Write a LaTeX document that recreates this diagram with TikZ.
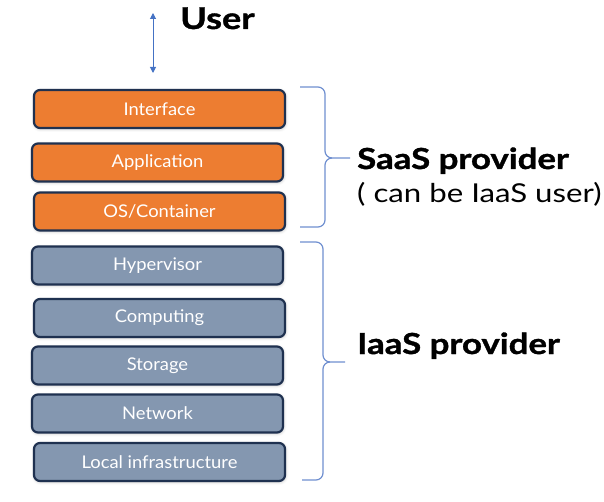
\documentclass[tikz,border=0pt]{standalone}
\usepackage{fontspec}
\setmainfont{Lato}
\newfontfamily\boxfont[FakeStretch=1.05]{Lato}
\newfontfamily\widefont[FakeStretch=1.2, BoldFeatures={FakeBold=1.2}]{Lato}
\usetikzlibrary{arrows.meta,shadows.blur}
\definecolor{saas}{HTML}{ED7D31}
\definecolor{iaas}{HTML}{8497B0}
\definecolor{edge}{HTML}{1F3150}
\definecolor{arrowc}{HTML}{4472C4}
\definecolor{bracec}{HTML}{6F8FD0}
\tikzset{
  layer/.style={draw=edge, line width=2.2pt, rounded corners=6pt, text=white,
    font=\boxfont\fontsize{17.5}{19}\selectfont, inner sep=0pt,
    minimum width=251pt, minimum height=38pt,
    blur shadow={shadow xshift=0.5pt, shadow yshift=-1pt, shadow opacity=25, shadow blur radius=3pt}},
  saasbox/.style={layer, fill=saas},
  iaasbox/.style={layer, fill=iaas},
  bracepath/.style={draw=bracec, line width=1.2pt},
  biglabel/.style={font=\widefont\fontsize{29}{32}\selectfont\bfseries, anchor=base west, inner sep=0pt},
  smalllabel/.style={font=\widefont\fontsize{26}{30}\selectfont, anchor=base west, inner sep=0pt},
}
\begin{document}
\begin{tikzpicture}[x=1pt,y=-1pt]
\useasboundingbox (0,0) rectangle (604,502);
\node[saasbox] (interface) at (159.5,109) {Interface};
\node[saasbox] (application) at (157.5,162.5) {Application};
\node[saasbox] (os) at (159.5,211.5) {OS/Container};
\node[iaasbox] (hyper) at (157.5,265.5) {Hypervisor};
\node[iaasbox] (computing) at (159.5,318) {Computing};
\node[iaasbox] (storage) at (157.5,365.5) {Storage};
\node[iaasbox] (network) at (157.5,413.5) {Network};
\node[iaasbox] (local) at (159.5,462) {Local infrastructure};

\coordinate (utop) at (153,13);
\coordinate (ubot) at (153,73);
\draw[arrowc, line width=1pt, {Triangle[length=6pt,width=6pt]}-{Triangle[length=6pt,width=6pt]}] (utop) -- (ubot);
\node[biglabel, font=\widefont\fontsize{30}{32}\selectfont\bfseries] (user) at (180,29) {User};

% SaaS brace
\draw[bracepath] (300,87) -- (318,87) to[out=0,in=90] (325,94) -- (325,151)
  to[out=-90,in=180] (332,158) -- (350,158);
\draw[bracepath] (332,158) to[out=180,in=90] (325,165) -- (325,220)
  to[out=-90,in=0] (318,227) -- (300,227);
\node[biglabel] (saasl) at (357,169) {SaaS provider};
\node[smalllabel] (saasu) at (357,203) {( can be IaaS user)};

% IaaS brace
\draw[bracepath] (300,242) -- (316,242) to[out=0,in=90] (323,249) -- (323,355)
  to[out=-90,in=180] (330,362) -- (345,362);
\draw[bracepath] (330,362) to[out=180,in=90] (323,369) -- (323,473)
  to[out=-90,in=0] (316,480) -- (302,480);
\node[biglabel] (iaasl) at (357,354) {IaaS provider};
\end{tikzpicture}
\end{document}
